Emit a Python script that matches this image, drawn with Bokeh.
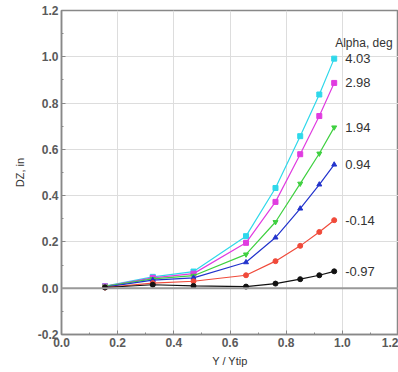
from bokeh.plotting import figure
from bokeh.models import Range1d, FixedTicker, PrintfTickFormatter, Span
from bokeh.core.properties import value
from bokeh.embed import file_html
from bokeh.resources import INLINE

# Data
y_over_ytip = [0.155, 0.325, 0.47, 0.657, 0.762, 0.85, 0.918, 0.971]
alpha_labels = ["4.03", "2.98", "1.94", "0.94", "-0.14", "-0.97"]
dz_403 = [0.009, 0.049, 0.072, 0.225, 0.433, 0.657, 0.837, 0.992]
dz_298 = [0.008, 0.045, 0.063, 0.196, 0.373, 0.579, 0.744, 0.887]
dz_194 = [0.008, 0.040, 0.054, 0.146, 0.286, 0.452, 0.582, 0.695]
dz_094 = [0.005, 0.035, 0.045, 0.112, 0.219, 0.344, 0.448, 0.534]
dz_m014 = [0.003, 0.022, 0.030, 0.056, 0.117, 0.183, 0.243, 0.294]
dz_m097 = [0.003, 0.015, 0.010, 0.007, 0.020, 0.039, 0.056, 0.073]
x_ticks = [0.0, 0.2, 0.4, 0.6, 0.8, 1.0, 1.2]
y_ticks = [-0.2, 0.0, 0.2, 0.4, 0.6, 0.8, 1.0, 1.2]

series = [dz_403, dz_298, dz_194, dz_094, dz_m014, dz_m097]
colors = ["#2fd8ea", "#e03ce0", "#3fd040", "#2233cc", "#f04a3a", "#111111"]
markers = ["square", "square", "inverted_triangle", "triangle", "circle", "circle"]

p = figure(width=398, height=372, output_backend="svg", toolbar_location=None,
           x_range=Range1d(0.0, 1.2), y_range=Range1d(-0.2, 1.2),
           min_border_left=61, min_border_right=0, min_border_top=10, min_border_bottom=38)

p.outline_line_color = "#888888"
p.outline_line_width = 1.5
p.background_fill_color = "white"
p.border_fill_color = "white"

minor_x = [0.1, 0.3, 0.5, 0.7, 0.9, 1.1]
minor_y = [-0.1, 0.1, 0.3, 0.5, 0.7, 0.9, 1.1]
p.xaxis.ticker = FixedTicker(ticks=x_ticks, minor_ticks=minor_x)
p.yaxis.ticker = FixedTicker(ticks=y_ticks, minor_ticks=minor_y)
p.xaxis.formatter = PrintfTickFormatter(format="%.1f")
p.yaxis.formatter = PrintfTickFormatter(format="%.1f")

for ax in (p.xaxis, p.yaxis):
    ax.axis_line_color = "#888888"
    ax.axis_line_width = 1.5
    ax.major_tick_in = 4
    ax.major_tick_out = 0
    ax.minor_tick_in = 2
    ax.minor_tick_out = 0
    ax.major_tick_line_color = "#888888"
    ax.minor_tick_line_color = "#888888"
    ax.major_label_text_font = "Liberation Sans"
    ax.major_label_text_font_size = "12px"
    ax.major_label_text_font_style = "bold"
    ax.major_label_text_color = "#5a5a5a"
    ax.axis_label_text_font = "Liberation Sans"
    ax.axis_label_text_font_size = "11px"
    ax.axis_label_text_font_style = "normal"
    ax.axis_label_text_color = "#333333"
    ax.major_label_standoff = 3

p.xaxis.axis_label = "Y / Ytip"
p.yaxis.axis_label = "DZ, in"
p.xaxis.axis_label_standoff = 5
p.yaxis.axis_label_standoff = 9

p.xgrid.grid_line_color = "#dddddd"
p.ygrid.grid_line_color = "#dddddd"

p.add_layout(Span(location=0, dimension="width", line_color="#999999", line_width=2))

for ys, c, m in zip(series, colors, markers):
    p.line(y_over_ytip, ys, line_color=c, line_width=1.2)
    p.scatter(y_over_ytip, ys, marker=m, size=5, fill_color=c, line_color=c)

last_x = [y_over_ytip[-1]] * len(series)
last_y = [s[-1] for s in series]
p.text(x=last_x, y=last_y, text=alpha_labels, x_offset=11, text_baseline="middle",
       text_font=value("Liberation Sans"), text_font_size="13px", text_color="#333333")
p.text(x=[y_over_ytip[-1]], y=[1.06], text=["Alpha, deg"], x_offset=1, text_baseline="middle",
       text_font=value("Liberation Sans"), text_font_size="12px", text_color="#333333")

open("out.html", "w").write(file_html(p, INLINE))
